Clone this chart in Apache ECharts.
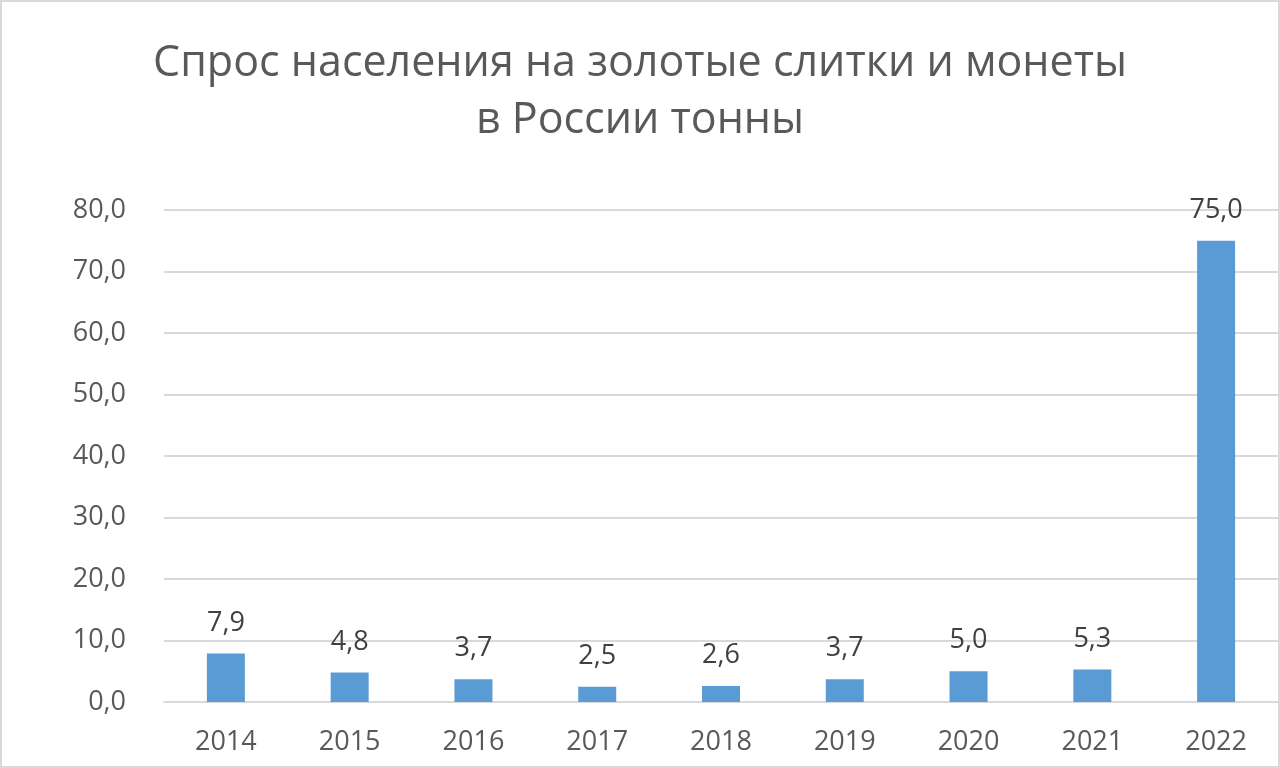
<!DOCTYPE html>
<html><head><meta charset="utf-8">
<script src="https://cdn.jsdelivr.net/npm/echarts@6/dist/echarts.min.js"></script>
<style>
html,body{margin:0;padding:0;background:#fff;}
#c{width:1280px;height:768px;box-sizing:border-box;border:2px solid #d9d9d9;}
</style></head>
<body><div id="c"></div>
<script>
const years = ['2014','2015','2016','2017','2018','2019','2020','2021','2022'];
const demand = [7.9, 4.8, 3.7, 2.5, 2.6, 3.7, 5.0, 5.3, 75.0];
const titleLines = ['Спрос населения на золотые слитки и монеты', 'в России тонны'];
const fmt = v => Number(v).toFixed(1).replace('.', ',');
const chart = echarts.init(document.getElementById('c'));
chart.setOption({
  animation: false,
  textStyle: {fontFamily: 'Open Sans'},
  title: {
    text: titleLines.join('\n'),
    left: 'center', top: 28,
    textStyle: {fontSize: 43, fontWeight: 'normal', color: '#595959', lineHeight: 57, fontFamily: 'Open Sans'}
  },
  grid: {left: 162, right: -1, top: 208, bottom: 64},
  xAxis: {
    type: 'category', data: years,
    axisLine: {lineStyle: {color: '#d9d9d9', width: 2}},
    axisTick: {show: false},
    axisLabel: {fontSize: 27, color: '#595959', margin: 27}
  },
  yAxis: {
    type: 'value', min: 0, max: 80, interval: 10,
    axisLine: {show: false}, axisTick: {show: false},
    splitLine: {lineStyle: {color: '#d9d9d9', width: 2}},
    axisLabel: {fontSize: 27, color: '#595959', margin: 38, formatter: fmt}
  },
  series: [{
    type: 'bar', data: demand, barWidth: 38,
    itemStyle: {color: '#5b9bd5'},
    label: {show: true, position: 'top', distance: 17, fontSize: 27, color: '#404040', formatter: p => fmt(p.value)}
  }]
});
</script></body></html>
